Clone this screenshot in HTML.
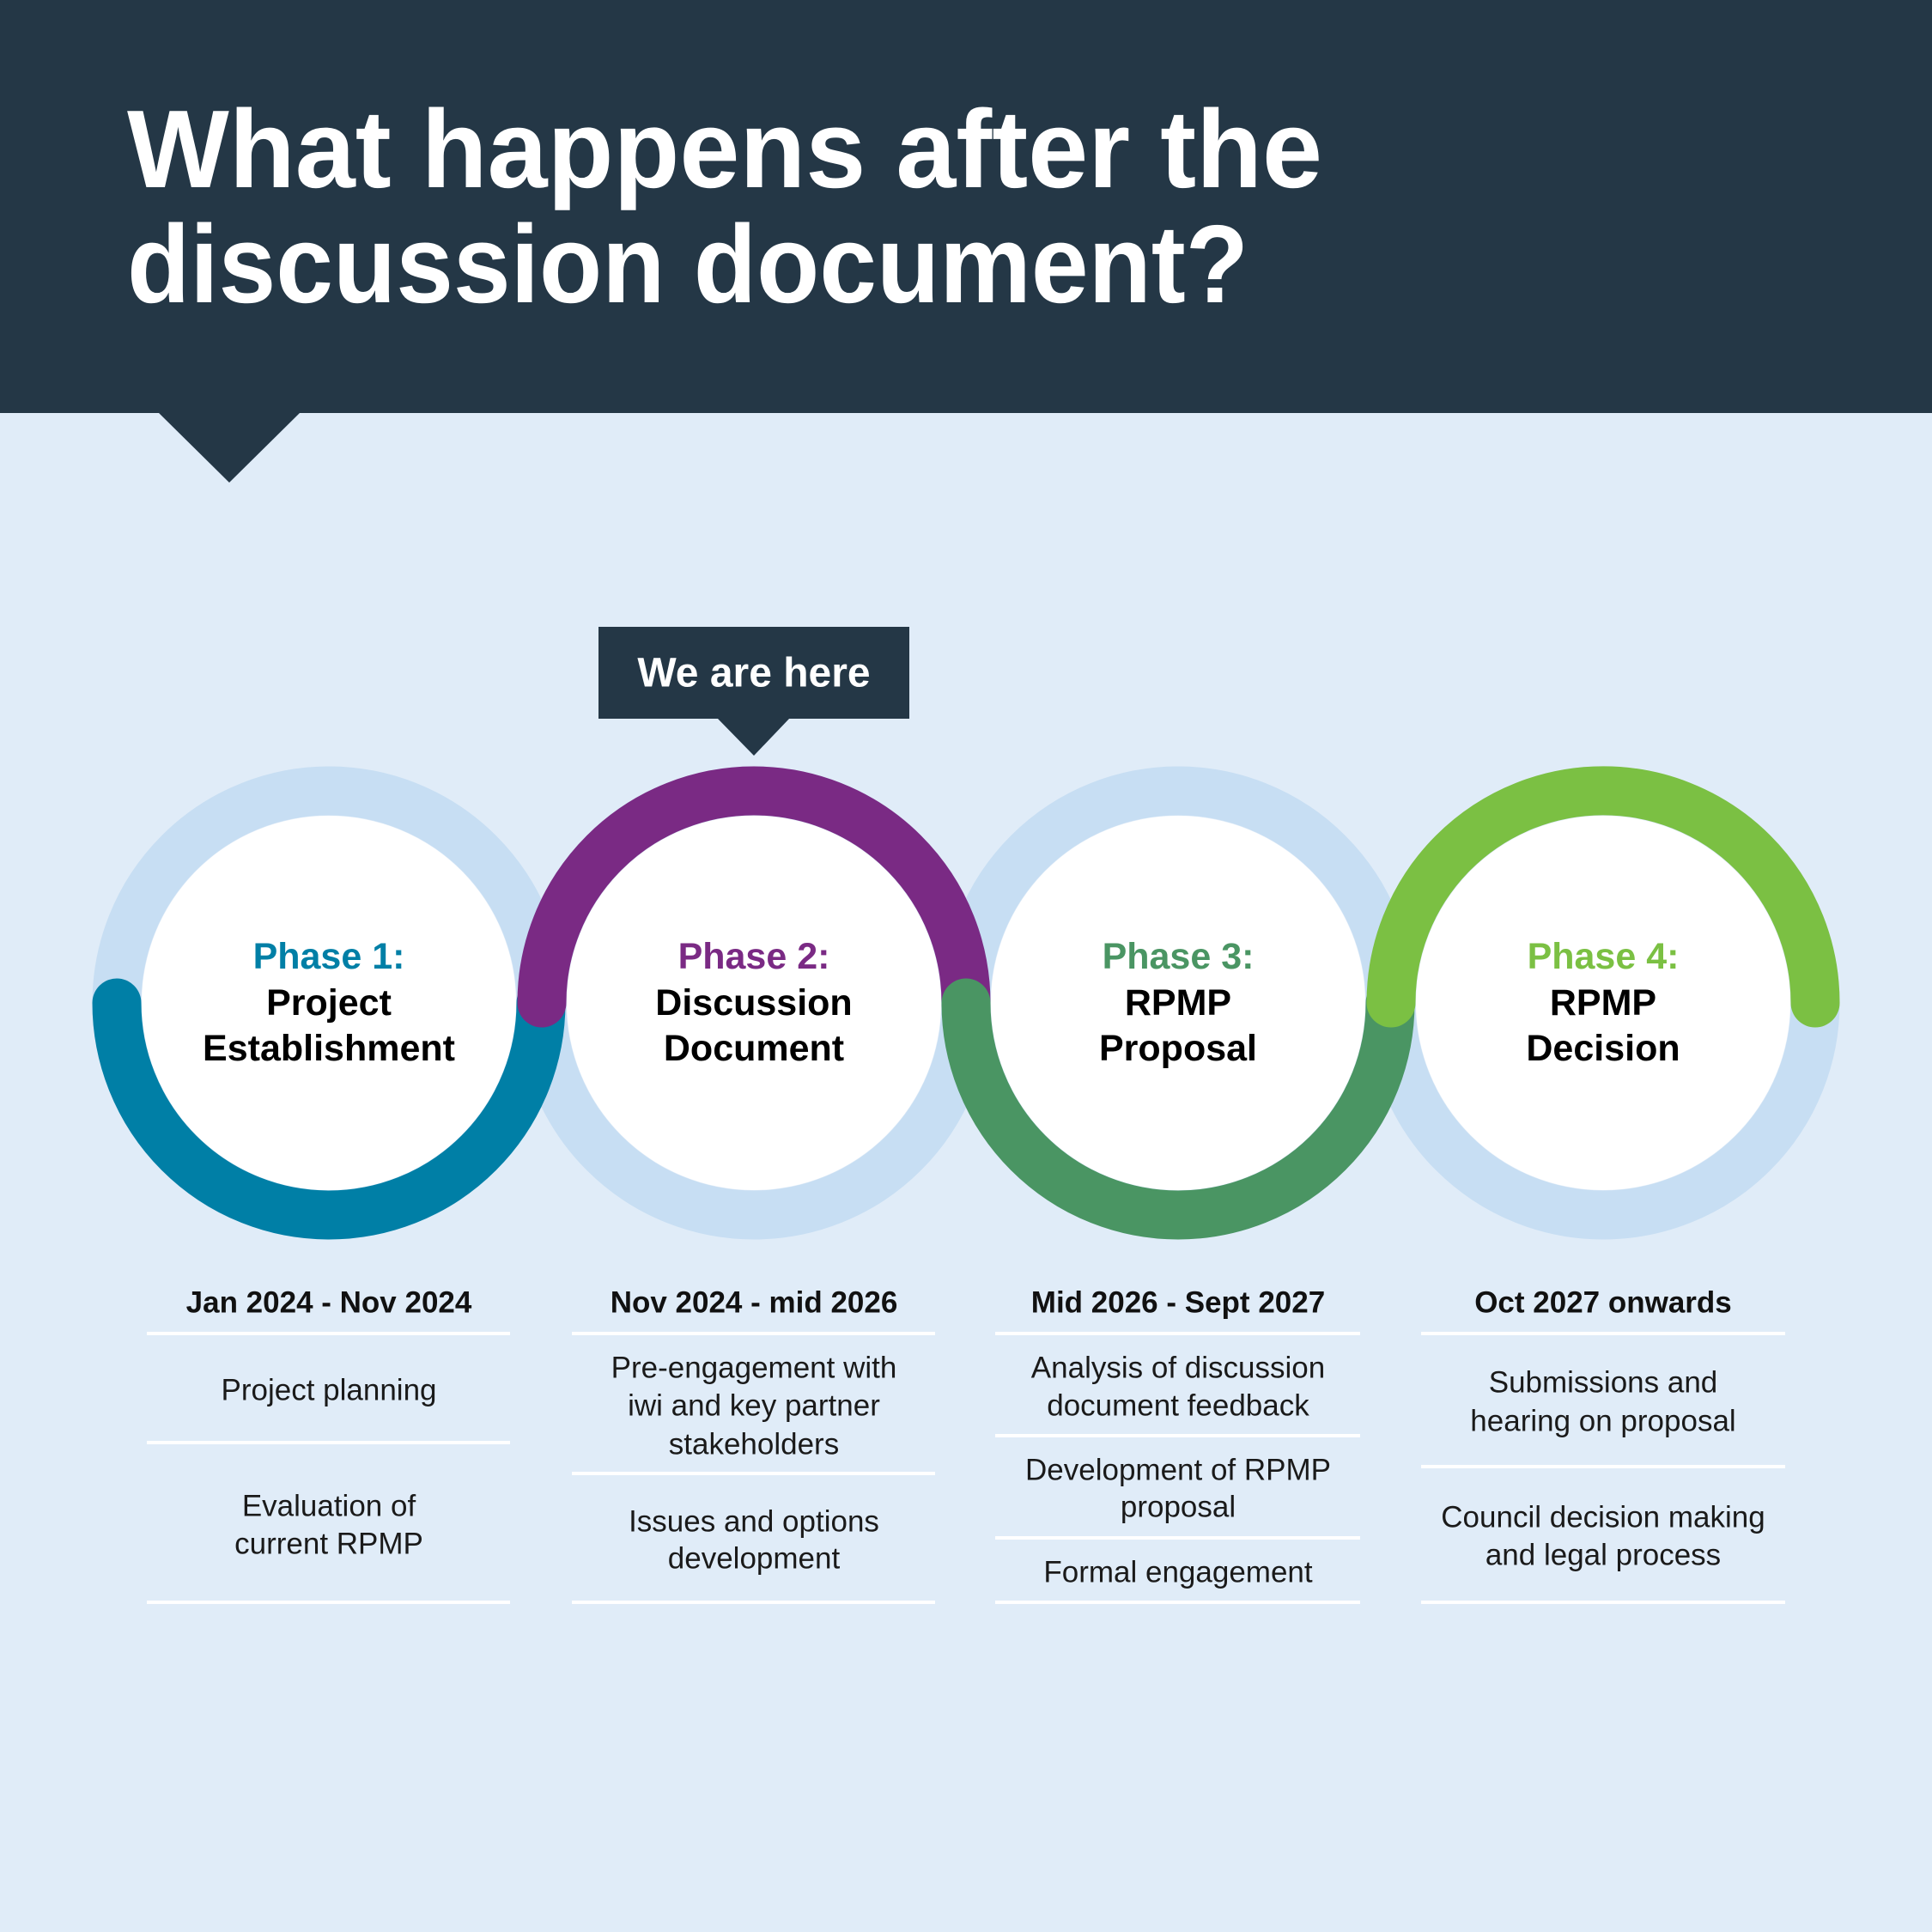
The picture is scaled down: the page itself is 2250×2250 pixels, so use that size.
<!DOCTYPE html>
<html><head><meta charset="utf-8"><style>
html,body{margin:0;padding:0;background:#E0ECF8}
svg{display:block}
.t{font-family:"Liberation Sans",sans-serif}
</style></head><body>
<svg width="2250" height="2250" viewBox="0 0 2250 2250" xmlns="http://www.w3.org/2000/svg">
<rect width="2250" height="2250" fill="#E0ECF8"/>
<rect width="2250" height="481" fill="#243746"/>
<polygon points="184,480 350,480 267,562" fill="#243746"/>
<g class="t" font-weight="bold" fill="#fff" font-size="129">
<text x="148" y="218" textLength="1392" lengthAdjust="spacingAndGlyphs">What happens after the</text>
<text x="148" y="352" textLength="1306" lengthAdjust="spacingAndGlyphs">discussion document?</text>
</g>
<rect x="697" y="730" width="362" height="107" fill="#243746"/>
<polygon points="835,836 920,836 878,880" fill="#243746"/>
<text class="t" x="878" y="784" text-anchor="middle" dominant-baseline="central" font-weight="bold" font-size="48" fill="#fff">We are here</text>

<g fill="none" stroke="#C7DEF3" stroke-width="57">
<circle cx="383" cy="1168" r="247"/><circle cx="878" cy="1168" r="247"/>
<circle cx="1372" cy="1168" r="247"/><circle cx="1867" cy="1168" r="247"/>
</g>
<g fill="none" stroke-width="57" stroke-linecap="round">
<path d="M136,1168 A247,247 0 1,0 630,1168" stroke="#007FA6"/>
<path d="M631,1168 A247,247 0 1,1 1125,1168" stroke="#7A2A84"/>
<path d="M1125,1168 A247,247 0 1,0 1619,1168" stroke="#4A9563"/>
<path d="M1620,1168 A247,247 0 1,1 2114,1168" stroke="#7BC043"/>
</g>
<g fill="#fff">
<circle cx="383" cy="1168" r="218"/><circle cx="878" cy="1168" r="218"/>
<circle cx="1372" cy="1168" r="218"/><circle cx="1867" cy="1168" r="218"/>
</g>
<g class="t" font-weight="bold" font-size="43" text-anchor="middle" dominant-baseline="central" fill="#000">
<text x="383" y="1114" fill="#007FA6">Phase 1:</text><text x="383" y="1168">Project</text><text x="383" y="1221">Establishment</text>
<text x="878" y="1114" fill="#7A2A84">Phase 2:</text><text x="878" y="1168">Discussion</text><text x="878" y="1221">Document</text>
<text x="1372" y="1114" fill="#4A9563">Phase 3:</text><text x="1372" y="1168">RPMP</text><text x="1372" y="1221">Proposal</text>
<text x="1867" y="1114" fill="#7BC043">Phase 4:</text><text x="1867" y="1168">RPMP</text><text x="1867" y="1221">Decision</text>
</g>

<g class="t" font-weight="bold" font-size="35" text-anchor="middle" dominant-baseline="central" fill="#111">
<text x="383" y="1517">Jan 2024 - Nov 2024</text>
<text x="878" y="1517">Nov 2024 - mid 2026</text>
<text x="1372" y="1517">Mid 2026 - Sept 2027</text>
<text x="1867" y="1517">Oct 2027 onwards</text>
</g>
<g stroke="#fff" stroke-width="4">
<line x1="171" y1="1553" x2="594" y2="1553"/><line x1="666" y1="1553" x2="1089" y2="1553"/>
<line x1="1159" y1="1553" x2="1584" y2="1553"/><line x1="1655" y1="1553" x2="2079" y2="1553"/>
<line x1="171" y1="1680" x2="594" y2="1680"/>
<line x1="666" y1="1716" x2="1089" y2="1716"/>
<line x1="1159" y1="1672" x2="1584" y2="1672"/><line x1="1159" y1="1791" x2="1584" y2="1791"/>
<line x1="1655" y1="1708" x2="2079" y2="1708"/>
<line x1="171" y1="1866" x2="594" y2="1866"/><line x1="666" y1="1866" x2="1089" y2="1866"/>
<line x1="1159" y1="1866" x2="1584" y2="1866"/><line x1="1655" y1="1866" x2="2079" y2="1866"/>
</g>
<g class="t" font-size="35" text-anchor="middle" dominant-baseline="central" fill="#1a1a1a">
<text x="383" y="1619">Project planning</text>
<text x="383" y="1754">Evaluation of</text><text x="383" y="1798">current RPMP</text>
<text x="878" y="1593">Pre-engagement with</text><text x="878" y="1637">iwi and key partner</text><text x="878" y="1682">stakeholders</text>
<text x="878" y="1772">Issues and options</text><text x="878" y="1815">development</text>
<text x="1372" y="1593">Analysis of discussion</text><text x="1372" y="1637">document feedback</text>
<text x="1372" y="1712">Development of RPMP</text><text x="1372" y="1755">proposal</text>
<text x="1372" y="1831">Formal engagement</text>
<text x="1867" y="1610">Submissions and</text><text x="1867" y="1655">hearing on proposal</text>
<text x="1867" y="1767">Council decision making</text><text x="1867" y="1811">and legal process</text>
</g>
</svg>
</body></html>
